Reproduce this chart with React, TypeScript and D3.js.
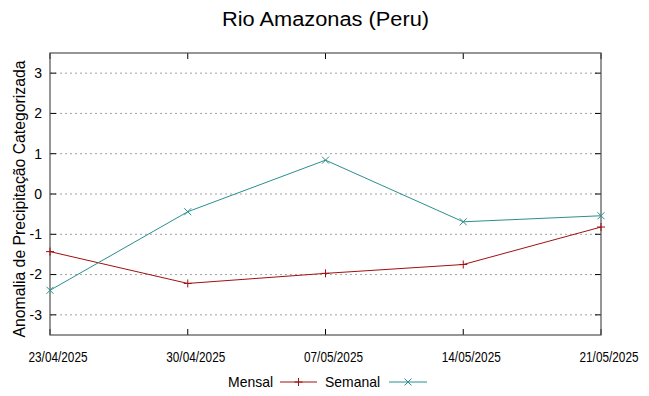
import * as d3 from "d3";
import React, { useEffect, useRef } from "react";

const dates = ["23/04/2025", "30/04/2025", "07/05/2025", "14/05/2025", "21/05/2025"];
const mensal = [-1.43, -2.22, -1.97, -1.75, -0.82];
const semanal = [-2.39, -0.44, 0.84, -0.69, -0.54];
const yTicks = [3, 2, 1, 0, -1, -2, -3];

const W = 649, H = 396;
const margin = { top: 53, right: 48, bottom: 61, left: 50 };
const font = "'Liberation Sans', Arial, sans-serif";
const red = "#a01010";
const teal = "#2a8f8f";

function drawChart(el: SVGSVGElement) {
  const svg = d3.select(el);
  svg.selectAll("*").remove();

  const x = d3.scalePoint().domain(dates).range([margin.left, W - margin.right]);
  const y = d3.scaleLinear().domain([-3.5, 3.5]).range([H - margin.bottom, margin.top]);
  const x0 = margin.left, x1 = W - margin.right, y0 = H - margin.bottom, y1 = margin.top;

  // grid
  svg.append("g").selectAll("line").data(yTicks).join("line")
    .attr("x1", x0).attr("x2", x1)
    .attr("y1", d => y(d)).attr("y2", d => y(d))
    .attr("stroke", "#a0a0a0").attr("stroke-width", 1).attr("stroke-dasharray", "2,3");

  // ticks (inward, mirrored)
  const tk = svg.append("g").attr("stroke", "#000").attr("stroke-width", 1);
  yTicks.forEach(t => {
    tk.append("line").attr("x1", x0).attr("x2", x0 + 6).attr("y1", y(t)).attr("y2", y(t));
    tk.append("line").attr("x1", x1).attr("x2", x1 - 6).attr("y1", y(t)).attr("y2", y(t));
  });
  dates.forEach(d => {
    tk.append("line").attr("x1", x(d)!).attr("x2", x(d)!).attr("y1", y0).attr("y2", y0 - 6);
    tk.append("line").attr("x1", x(d)!).attr("x2", x(d)!).attr("y1", y1).attr("y2", y1 + 6);
  });

  // frame
  svg.append("rect").attr("x", x0).attr("y", y1).attr("width", x1 - x0).attr("height", y0 - y1)
    .attr("fill", "none").attr("stroke", "#505050").attr("stroke-width", 1.2);

  // y tick labels
  svg.append("g").selectAll("text").data(yTicks).join("text")
    .attr("x", x0 - 8).attr("y", d => y(d)).attr("dy", "0.35em")
    .attr("text-anchor", "end").attr("font-family", font).attr("font-size", 14)
    .text(d => String(d));

  // x tick labels (condensed, shifted right like the original)
  svg.append("g").selectAll("text").data(dates).join("text")
    .attr("x", d => x(d)! + 8).attr("y", y0 + 27)
    .attr("text-anchor", "middle").attr("font-family", font).attr("font-size", 14)
    .attr("textLength", 59).attr("lengthAdjust", "spacingAndGlyphs")
    .text(d => d);

  // title
  svg.append("text").attr("x", 325.5).attr("y", 26).attr("text-anchor", "middle")
    .attr("font-family", font).attr("font-size", 20)
    .attr("textLength", 207).attr("lengthAdjust", "spacingAndGlyphs")
    .text("Rio Amazonas (Peru)");

  // y label
  svg.append("text").attr("transform", `translate(25,${(y0 + y1) / 2 + 5}) rotate(-90)`)
    .attr("text-anchor", "middle").attr("font-family", font).attr("font-size", 16)
    .attr("textLength", 277).attr("lengthAdjust", "spacingAndGlyphs")
    .text("Anomalia de Precipitação Categorizada");

  const line = d3.line<number>().x((_, i) => x(dates[i])!).y(d => y(d));

  const plus = (g: any, cx: number, cy: number, c: string) => {
    g.append("path").attr("d", `M${cx - 4},${cy}H${cx + 4}M${cx},${cy - 4}V${cy + 4}`)
      .attr("stroke", c).attr("stroke-width", 1).attr("fill", "none");
  };
  const cross = (g: any, cx: number, cy: number, c: string) => {
    g.append("path").attr("d", `M${cx - 3.5},${cy - 3.5}L${cx + 3.5},${cy + 3.5}M${cx - 3.5},${cy + 3.5}L${cx + 3.5},${cy - 3.5}`)
      .attr("stroke", c).attr("stroke-width", 1).attr("fill", "none");
  };

  const series = [
    { name: "Mensal", values: mensal, color: red, mark: plus },
    { name: "Semanal", values: semanal, color: teal, mark: cross },
  ];

  series.forEach(s => {
    const g = svg.append("g");
    g.append("path").attr("d", line(s.values)!).attr("fill", "none")
      .attr("stroke", s.color).attr("stroke-width", 1);
    s.values.forEach((v, i) => s.mark(g, x(dates[i])!, y(v), s.color));
  });

  // legend
  const lg = svg.append("g").attr("font-family", font).attr("font-size", 15);
  const ly = 382;
  lg.append("text").attr("x", 228).attr("y", ly).attr("dy", "0.35em")
    .attr("textLength", 45).attr("lengthAdjust", "spacingAndGlyphs").text("Mensal");
  lg.append("line").attr("x1", 280).attr("x2", 317).attr("y1", ly).attr("y2", ly).attr("stroke", red).attr("stroke-width", 1);
  plus(lg, 298.5, ly, red);
  lg.append("text").attr("x", 325).attr("y", ly).attr("dy", "0.35em")
    .attr("textLength", 55).attr("lengthAdjust", "spacingAndGlyphs").text("Semanal");
  lg.append("line").attr("x1", 389).attr("x2", 427).attr("y1", ly).attr("y2", ly).attr("stroke", teal).attr("stroke-width", 1);
  cross(lg, 408, ly, teal);
}

const Chart = () => {
  const ref = useRef<SVGSVGElement>(null);
  useEffect(() => {
    if (ref.current) drawChart(ref.current);
  }, []);
  return <svg ref={ref} width={W} height={H} style={{ display: "block", background: "#fff" }} />;
};

export default function App() {
  return (
    <div style={{ margin: -8 }}>
      <Chart />
    </div>
  );
}
